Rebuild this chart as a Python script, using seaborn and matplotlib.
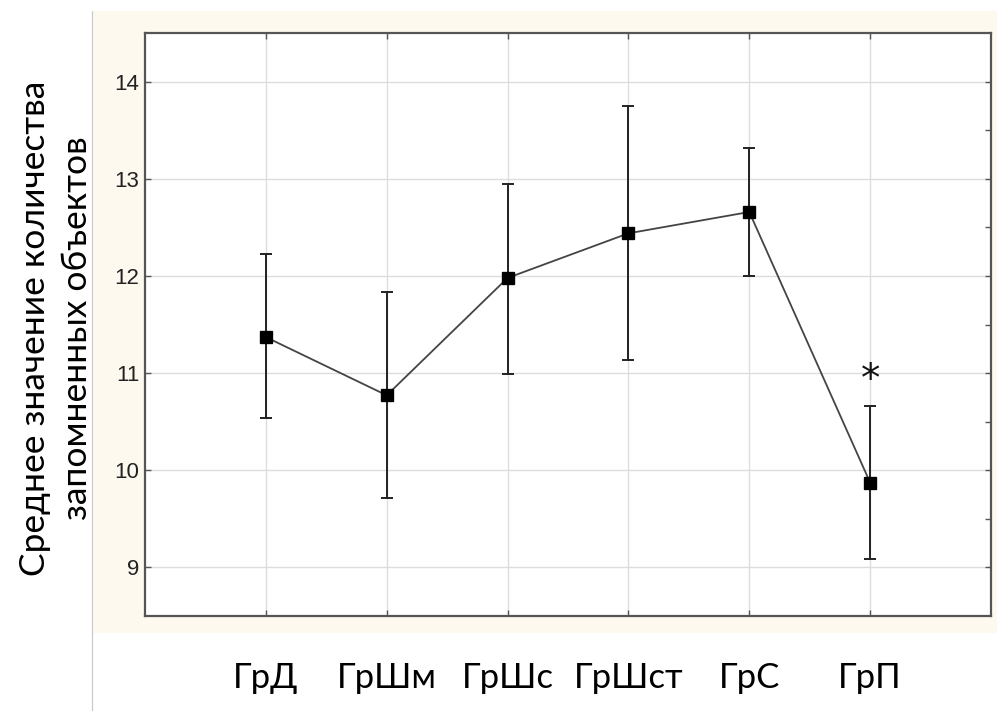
import numpy as np
import pandas as pd
import seaborn as sns
import matplotlib.pyplot as plt
from matplotlib.patches import Rectangle
from matplotlib.lines import Line2D

groups = ["ГрД", "ГрШм", "ГрШс", "ГрШст", "ГрС", "ГрП"]
means = [11.37, 10.77, 11.98, 12.44, 12.66, 9.87]
upper = [12.23, 11.84, 12.95, 13.75, 13.32, 10.66]
lower = [10.54, 9.71, 10.99, 11.13, 12.00, 9.08]
yticks = [9, 10, 11, 12, 13, 14]
ylabel = "Среднее значение количества\nзапомненных объектов"

df = pd.DataFrame({"group": groups, "mean": means})

sns.set_style("white")
plt.rcParams["font.family"] = ["Liberation Sans", "DejaVu Sans"]

fig = plt.figure(figsize=(9.97, 7.11), dpi=100)
W, H = 997, 711

# beige panel behind the plot
fig.patches.append(Rectangle((93 / W, 1 - 633 / H), (997 - 93) / W, (633 - 11) / H,
                             transform=fig.transFigure, facecolor="#FDF9EF",
                             edgecolor="none", zorder=-2))
fig.lines.append(Line2D([92 / W, 92 / W], [0, 1 - 11 / H], transform=fig.transFigure,
                        color="#c8c8c8", lw=0.8, zorder=-1))

ax = fig.add_axes([145 / W, 1 - 616 / H, (991 - 145) / W, (616 - 33) / H])
ax.set_facecolor("white")

sns.pointplot(data=df, x="group", y="mean", errorbar=None, ax=ax,
              color="#444444", markers="s", linestyles="-", markersize=8,
              linewidth=1.3, zorder=3)
for ln in ax.lines:
    ln.set_markerfacecolor("black")
    ln.set_markeredgecolor("black")

m = np.array(means)
yerr = np.vstack([m - np.array(lower), np.array(upper) - m])
ax.errorbar(np.arange(len(groups)), m, yerr=yerr, fmt="none", ecolor="#222222",
            elinewidth=1.4, capsize=4.5, capthick=1.4, zorder=2)

ax.text(5, 10.93, "*", ha="center", va="center", fontsize=28, color="#111111",
        family="DejaVu Sans")

ax.set_xlim(-1, 6)
ax.set_ylim(8.495, 14.505)
ax.set_yticks(yticks)
ax.set_yticklabels([str(t) for t in yticks])
ax.grid(True, color="#dddddd", lw=1.0)
ax.set_axisbelow(True)

for s in ax.spines.values():
    s.set_visible(True)
    s.set_color("#555555")
    s.set_linewidth(1.6)

ax.tick_params(axis="y", direction="in", length=4, width=1, colors="#555555",
               labelcolor="#222222", labelsize=16, pad=4, left=True)
ax.tick_params(axis="x", direction="in", length=4, width=1, colors="#555555",
               labelcolor="black", labelsize=25, pad=33, bottom=True, top=True)
for lab in ax.get_xticklabels():
    lab.set_family(["Lato", "DejaVu Sans"])

# right side ticks every 0.5
ax2 = ax.twinx()
ax2.set_ylim(ax.get_ylim())
ax2.set_yticks(np.arange(9, 14.01, 0.5))
ax2.tick_params(axis="y", direction="in", length=4, width=1, colors="#555555",
                labelright=False)
for s in ax2.spines.values():
    s.set_visible(False)
ax2.grid(False)

ax.set_xlabel("")
ax.set_ylabel("")

fig.text(56 / W, 1 - 328 / H, ylabel, rotation=90, ha="center", va="center",
         multialignment="center", fontsize=25.5, family=["Lato", "DejaVu Sans"],
         linespacing=1.42, color="black")

fig.savefig("out.png", dpi=100, facecolor="white")
